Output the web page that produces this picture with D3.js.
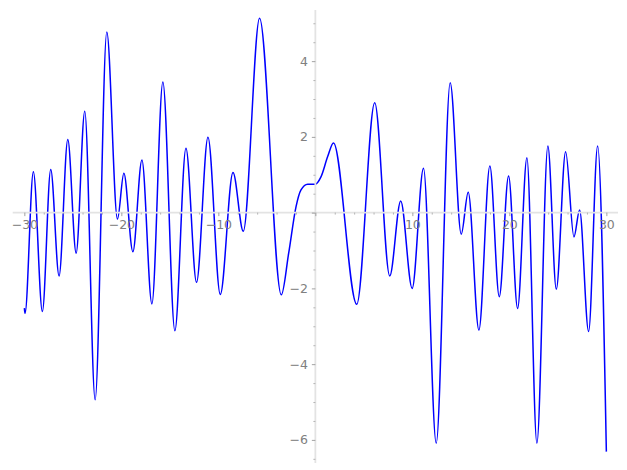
<!DOCTYPE html>
<html>
<head>
<meta charset="utf-8">
<script src="https://cdn.jsdelivr.net/npm/d3@7"></script>
<style>
html,body{margin:0;padding:0;background:#fff;}
svg{display:block;}
</style>
</head>
<body>
<div id="chart"></div>
<script>
// curve samples (local extrema and a few shape points)
const xValues = [-30, -29.93, -29.07, -28.14, -27.28, -26.42, -25.52, -24.66, -23.77, -22.70,
  -21.50, -20.40, -19.74, -18.81, -17.88, -16.85, -15.72, -14.48, -13.34, -12.25,
  -11.07, -9.80, -8.49, -7.43, -5.75, -3.51, -2.75, -1.99, -1.48, -0.79,
  -0.03, 0.59, 1.27, 1.87, 4.27, 6.12, 7.67, 8.80, 9.98, 11.15,
  12.46, 13.90, 15.04, 15.76, 16.86, 17.99, 18.96, 19.92, 20.85, 21.81,
  22.84, 23.97, 24.84, 25.80, 26.66, 27.24, 28.17, 29.10, 30];
const yValues = [-2.52, -2.66, 1.08, -2.61, 1.14, -1.67, 1.93, -1.07, 2.68, -4.94,
  4.77, -0.17, 1.04, -1.03, 1.39, -2.41, 3.45, -3.12, 1.70, -1.84,
  1.99, -2.16, 1.06, -0.49, 5.13, -2.17, -1.07, 0.16, 0.60, 0.75,
  0.75, 0.95, 1.48, 1.84, -2.42, 2.90, -1.67, 0.31, -2.00, 1.17,
  -6.09, 3.43, -0.57, 0.54, -3.10, 1.23, -2.22, 0.97, -2.53, 1.45,
  -6.09, 1.76, -2.02, 1.61, -0.64, 0.07, -3.14, 1.76, -6.31];

const xMajorTicks = [-30, -20, -10, 0, 10, 20, 30];
const xMajorLabels = ["\u221230", "\u221220", "\u221210", "", "10", "20", "30"];
const xMinorTicks = [-30,-28,-26,-24,-22,-20,-18,-16,-14,-12,-10,-8,-6,-4,-2,0,2,4,6,8,10,12,14,16,18,20,22,24,26,28,30];
const yMajorTicks = [-6, -4, -2, 0, 2, 4];
const yMajorLabels = ["\u22126", "\u22124", "\u22122", "", "2", "4"];
const yMinorTicks = [-6.5,-6,-5.5,-5,-4.5,-4,-3.5,-3,-2.5,-2,-1.5,-1,-0.5,0,0.5,1,1.5,2,2.5,3,3.5,4,4.5,5];

const W = 627, H = 470;
const xDomain = [-31.2, 31.2];
const yDomain = [-6.61, 5.35];

const svg = d3.select("#chart").append("svg")
  .attr("width", W).attr("height", H)
  .attr("viewBox", `0 0 ${W} ${H}`);
svg.append("rect").attr("width", W).attr("height", H).attr("fill", "#fff");

const x = d3.scaleLinear().domain(xDomain).range([12.7, 618]);
const y = d3.scaleLinear().domain(yDomain).range([463, 10]);

const data = xValues.map((v, i) => [v, yValues[i]]);

const line = d3.line()
  .x(d => x(d[0])).y(d => y(d[1]))
  .curve(d3.curveMonotoneX);

svg.append("path").datum(data)
  .attr("d", line)
  .attr("fill", "none")
  .attr("stroke", "#0000ff")
  .attr("stroke-width", 1.5)
  .attr("stroke-linejoin", "round");

const axisColor = "#e3e3e3";
const tickColor = "#8c8c8c";
const labelColor = "#808080";
const font = "DejaVu Sans, sans-serif";

// spines
svg.append("line")
  .attr("x1", x(xDomain[0])).attr("x2", x(xDomain[1]))
  .attr("y1", y(0)).attr("y2", y(0))
  .attr("stroke", axisColor).attr("stroke-width", 1.8);
svg.append("line")
  .attr("x1", x(0)).attr("x2", x(0))
  .attr("y1", y(yDomain[0])).attr("y2", y(yDomain[1]))
  .attr("stroke", axisColor).attr("stroke-width", 1.8);

// x axis ticks
const xAxisMajor = d3.axisBottom(x).tickValues(xMajorTicks)
  .tickSize(3.5).tickSizeOuter(0).tickPadding(4)
  .tickFormat((d, i) => xMajorLabels[i]);
const gx = svg.append("g").attr("transform", `translate(0,${y(0)})`).call(xAxisMajor);
gx.select(".domain").remove();
gx.selectAll(".tick line").attr("stroke", tickColor).attr("stroke-width", 0.8);
gx.selectAll(".tick text").attr("fill", labelColor)
  .style("font-family", font).style("font-size", "12.5px");

const xAxisMinor = d3.axisBottom(x).tickValues(xMinorTicks.filter(t => !xMajorTicks.includes(t)))
  .tickSize(2).tickSizeOuter(0).tickFormat("");
const gxm = svg.append("g").attr("transform", `translate(0,${y(0)})`).call(xAxisMinor);
gxm.select(".domain").remove();
gxm.selectAll(".tick line").attr("stroke", tickColor).attr("stroke-width", 0.6);

// y axis ticks
const yAxisMajor = d3.axisLeft(y).tickValues(yMajorTicks)
  .tickSize(3.5).tickSizeOuter(0).tickPadding(4)
  .tickFormat((d, i) => yMajorLabels[i]);
const gy = svg.append("g").attr("transform", `translate(${x(0)},0)`).call(yAxisMajor);
gy.select(".domain").remove();
gy.selectAll(".tick line").attr("stroke", tickColor).attr("stroke-width", 0.8);
gy.selectAll(".tick text").attr("fill", labelColor)
  .style("font-family", font).style("font-size", "12.5px");

const yAxisMinor = d3.axisLeft(y).tickValues(yMinorTicks.filter(t => !yMajorTicks.includes(t)))
  .tickSize(2).tickSizeOuter(0).tickFormat("");
const gym = svg.append("g").attr("transform", `translate(${x(0)},0)`).call(yAxisMinor);
gym.select(".domain").remove();
gym.selectAll(".tick line").attr("stroke", tickColor).attr("stroke-width", 0.6);
</script>
</body>
</html>
